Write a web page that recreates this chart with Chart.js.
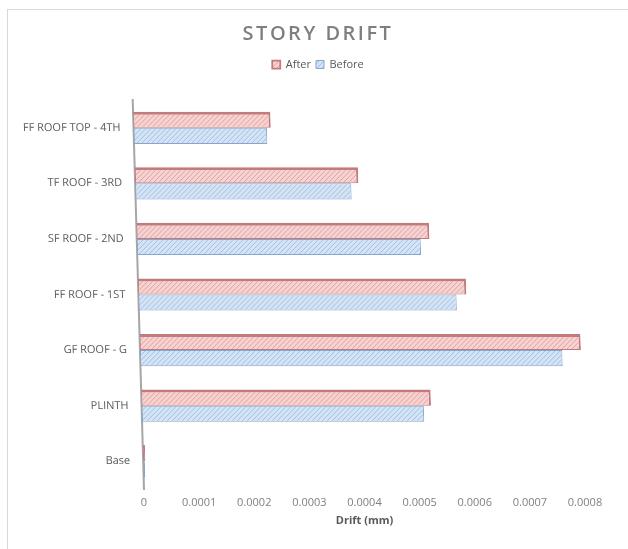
<!DOCTYPE html>
<html>
<head>
<meta charset="utf-8">
<title>Story Drift</title>
<script src="https://cdn.jsdelivr.net/npm/chart.js@4.4.1/dist/chart.umd.min.js"></script>
<style>
  html, body { margin: 0; padding: 0; background: #ffffff; overflow: hidden; }
  #frame { position: absolute; left: 7px; top: 9px; width: 700px; height: 700px; border: 1px solid #d9d9d9; box-sizing: border-box; }
  #wrap { position: absolute; left: 0; top: 0; width: 628px; height: 549px; }
</style>
</head>
<body>
<div id="frame"></div>
<div id="wrap"><canvas id="chart" width="628" height="549"></canvas></div>
<script>
// Storeys, top of the building first
const stories = ['FF ROOF TOP - 4TH', 'TF ROOF - 3RD', 'SF ROOF - 2ND', 'FF ROOF - 1ST', 'GF ROOF - G', 'PLINTH', 'Base'];

// Story drift (mm)
const driftAfter  = [0.000249, 0.000405, 0.000531, 0.000595, 0.000800, 0.000525, 0.000004];
const driftBefore = [0.000242, 0.000392, 0.000515, 0.000577, 0.000766, 0.000512, 0.000003];

// Drift axis ticks
const driftTicks = [0, 0.0001, 0.0002, 0.0003, 0.0004, 0.0005, 0.0006, 0.0007, 0.0008];

const FONT = "'Open Sans', 'DejaVu Sans', sans-serif";
const SLANT = 0.029;        // horizontal lean of the plot per pixel of height
const LEGEND_GAP = 20;      // extra room under the legend row
const PAD_LEFT = 51;        // left padding, keeps title and legend centred over the plot
const AXIS_X = 144;         // where the value axis starts

const canvas = document.getElementById('chart');
const ctx0 = canvas.getContext('2d');

// Diagonal hatch fill
function hatch(bg, line) {
  const s = 5;
  const c = document.createElement('canvas');
  c.width = s; c.height = s;
  const g = c.getContext('2d');
  g.fillStyle = bg;
  g.fillRect(0, 0, s, s);
  g.strokeStyle = line;
  g.lineWidth = 1;
  g.beginPath();
  g.moveTo(-1, s + 1); g.lineTo(s + 1, -1);
  g.moveTo(-1, 1);     g.lineTo(1, -1);
  g.moveTo(s - 1, s + 1); g.lineTo(s + 1, s - 1);
  g.stroke();
  return ctx0.createPattern(c, 'repeat');
}

function lean(chart, ctx) {
  const b = chart.chartArea.bottom;
  ctx.transform(1, 0, SLANT, 1, -SLANT * b, 0);
}

// Gives the bars, the category axis and its labels a slight perspective lean
const leanPlugin = {
  id: 'lean',
  beforeLayout(chart) {
    const y = chart.scales.y;
    if (y && !y._leaning) {
      const orig = y.draw;
      y.draw = function (area) {
        const ctx = this.ctx;
        ctx.save();
        lean(chart, ctx);
        orig.call(this, area);
        ctx.restore();
      };
      // long storey names may run past the left padding
      y._computeLabelArea = function () {
        return { top: 0, left: 0, bottom: this.chart.height, right: this.right };
      };
      y._leaning = true;
    }
    const lg = chart.legend;
    if (lg && !lg._spaced) {
      const fit = lg.fit;
      lg.fit = function () {
        fit.call(this);
        this.height += LEGEND_GAP;
      };
      lg._spaced = true;
    }
    const tb = chart.titleBlock;
    if (tb && !tb._spaced) {
      const draw = tb.draw;
      tb.draw = function (area) {
        this.ctx.save();
        this.ctx.letterSpacing = '2.5px';
        draw.call(this, area);
        this.ctx.restore();
      };
      tb._spaced = true;
    }
  },
  beforeDatasetsDraw(chart) {
    chart.ctx.save();
    lean(chart, chart.ctx);
  },
  afterDatasetsDraw(chart) {
    chart.ctx.restore();
  }
};

new Chart(canvas, {
  type: 'bar',
  data: {
    labels: stories,
    datasets: [
      {
        label: 'After',
        data: driftAfter,
        backgroundColor: hatch('#f6d2d1', '#e2a1a1'),
        borderColor: '#c27b7d',
        borderWidth: { top: 3, right: 2, bottom: 1, left: 1 },
        borderSkipped: false
      },
      {
        label: 'Before',
        data: driftBefore,
        backgroundColor: hatch('#d5e4f5', '#9fc0e5'),
        borderColor: '#8aa5cb',
        borderWidth: 1,
        borderSkipped: false
      }
    ]
  },
  options: {
    indexAxis: 'y',
    responsive: false,
    animation: false,
    layout: { padding: { top: 0, right: 43, bottom: 0, left: PAD_LEFT } },
    datasets: { bar: { categoryPercentage: 0.58, barPercentage: 1 } },
    scales: {
      x: {
        min: 0,
        max: 0.0008,
        afterBuildTicks(scale) { scale.ticks = driftTicks.map(v => ({ value: v })); },
        afterFit(scale) { scale.height = 60; },
        grid: { display: false, drawTicks: false },
        border: { display: false },
        ticks: {
          color: '#808080',
          font: { family: FONT, size: 11 },
          padding: 7,
          autoSkip: false,
          maxRotation: 0,
          callback: v => (v === 0 ? '0' : v.toFixed(4))
        },
        title: {
          display: true,
          text: 'Drift (mm)',
          color: '#595959',
          font: { family: FONT, size: 11, weight: 'bold' },
          padding: { top: 2, bottom: 22 }
        }
      },
      y: {
        afterFit(scale) { scale.width = AXIS_X - PAD_LEFT; },
        grid: { display: false, drawTicks: false },
        border: { display: true, color: '#a6a6a6', width: 2 },
        ticks: { color: '#595959', font: { family: FONT, size: 11 }, padding: 13 }
      }
    },
    plugins: {
      title: {
        display: true,
        text: 'STORY DRIFT',
        color: '#7f7f7f',
        font: { family: FONT, size: 20, weight: '600' },
        padding: { top: 22, bottom: 8 }
      },
      legend: {
        labels: {
          color: '#595959',
          font: { family: FONT, size: 11 },
          boxWidth: 8,
          boxHeight: 8,
          padding: 5
        }
      },
      tooltip: { enabled: false }
    }
  },
  plugins: [leanPlugin]
});
</script>
</body>
</html>
